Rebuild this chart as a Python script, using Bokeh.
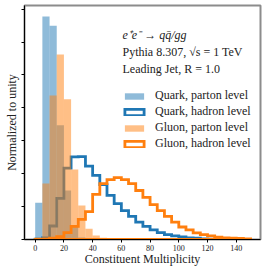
import numpy as np
from bokeh.plotting import figure
from bokeh.models import Range1d, FixedTicker, Label, Legend, LegendItem, ColumnDataSource
from bokeh.embed import file_html
from bokeh.resources import INLINE

# ---- data (density, bin width 5) ----
bin_width = 5
quark_parton = [0.0112, 0.0678, 0.0650, 0.0347, 0.0149, 0.0043, 0.0006, 0.0002]
gluon_parton = [0.0006, 0.0170, 0.0438, 0.0562, 0.0426, 0.0213, 0.0103, 0.0033, 0.0012, 0.0005, 0.0002]
quark_hadron = [0.0001, 0.0005, 0.0041, 0.0125, 0.0217, 0.0251, 0.0252, 0.0223, 0.0195, 0.0167,
                0.0134, 0.0109, 0.0088, 0.0070, 0.0053, 0.0040, 0.0029, 0.0021, 0.0015, 0.0011,
                0.0008, 0.0005, 0.0004, 0.0002, 0.0001]
gluon_hadron = [0.00003, 0.0001, 0.0004, 0.0009, 0.0021, 0.0040, 0.0061, 0.0085, 0.0137, 0.0170,
                0.0182, 0.0188, 0.0182, 0.0170, 0.0149, 0.0128, 0.0106, 0.0088, 0.0070, 0.0053,
                0.0038, 0.0029, 0.0020, 0.0015, 0.0011, 0.0007, 0.0005, 0.0004, 0.0003, 0.0002]
x_ticks = [0, 20, 40, 60, 80, 100, 120, 140]
y_ticks = [0.0, 0.01, 0.02, 0.03, 0.04, 0.05, 0.06, 0.07]
labels = ["Quark, parton level", "Quark, hadron level", "Gluon, parton level", "Gluon, hadron level"]
notes = ["e⁺e⁻ → qq̄/gg", "Pythia 8.307, √s = 1 TeV", "Leading Jet, R = 1.0"]

BLUE = "#1f77b4"
ORANGE = "#ff7f0e"
SERIF = "Liberation Serif"
TXT = "#222222"


def bars(vals):
    v = np.asarray(vals)
    left = np.arange(len(v)) * bin_width
    return ColumnDataSource(dict(left=left, right=left + bin_width, top=v, bottom=np.zeros_like(v)))


def steps(vals):
    v = np.asarray(vals)
    edges = np.arange(len(v) + 1) * bin_width
    xs = np.repeat(edges, 2)
    ys = np.concatenate([[0.0], np.repeat(v, 2), [0.0]])
    return ColumnDataSource(dict(x=xs, y=ys))


p = figure(width=266, height=271, output_backend="svg", toolbar_location=None,
           x_range=Range1d(-7.45, 156.9), y_range=Range1d(0, 0.07112),
           min_border_left=24, min_border_right=6, min_border_top=5, min_border_bottom=32)
p.grid.visible = False
p.outline_line_color = "#8c8c8c"
p.outline_line_width = 2

r_qp = p.quad(source=bars(quark_parton), left="left", right="right", top="top", bottom="bottom",
              fill_color=BLUE, fill_alpha=0.5, line_color=None)
r_qh = p.patch(source=steps(quark_hadron), x="x", y="y", fill_color=None, line_color=BLUE,
               line_width=2.8, line_join="miter")
r_gp = p.quad(source=bars(gluon_parton), left="left", right="right", top="top", bottom="bottom",
              fill_color=ORANGE, fill_alpha=0.5, line_color=None)
r_gh = p.patch(source=steps(gluon_hadron), x="x", y="y", fill_color=None, line_color=ORANGE,
               line_width=2.8, line_join="miter")

legend = Legend(items=[LegendItem(label=labels[0], renderers=[r_qp]),
                       LegendItem(label=labels[1], renderers=[r_qh]),
                       LegendItem(label=labels[2], renderers=[r_gp]),
                       LegendItem(label=labels[3], renderers=[r_gh])],
                location=(98, 88), padding=0, margin=0, spacing=1,
                glyph_width=24, glyph_height=8, label_height=14, label_standoff=9,
                label_text_font=SERIF, label_text_font_size="12px", label_text_color=TXT,
                border_line_alpha=0, background_fill_alpha=0)
p.add_layout(legend)

# axes
p.xaxis.ticker = FixedTicker(ticks=x_ticks)
p.xaxis.major_label_text_font = SERIF
p.xaxis.major_label_text_font_size = "8px"
p.xaxis.major_label_text_color = TXT
p.xaxis.major_label_standoff = 2
p.xaxis.major_tick_out = 3
p.xaxis.major_tick_in = 0
p.xaxis.minor_tick_out = 0
p.xaxis.minor_tick_in = 0
p.xaxis.axis_line_color = "black"
p.xaxis.axis_label = "Constituent Multiplicity"
p.xaxis.axis_label_text_font = SERIF
p.xaxis.axis_label_text_font_size = "12px"
p.xaxis.axis_label_text_font_style = "normal"
p.xaxis.axis_label_text_color = TXT
p.xaxis.axis_label_standoff = -2

p.yaxis.ticker = FixedTicker(ticks=y_ticks)
p.yaxis.major_label_overrides = {t: "" for t in y_ticks}
p.yaxis.major_label_standoff = 0
p.yaxis.major_tick_out = 3
p.yaxis.major_tick_in = 0
p.yaxis.minor_tick_out = 0
p.yaxis.minor_tick_in = 0
p.yaxis.axis_line_color = "black"
p.yaxis.axis_label = "Normalized to unity"
p.yaxis.axis_label_text_font = SERIF
p.yaxis.axis_label_text_font_size = "12px"
p.yaxis.axis_label_text_font_style = "normal"
p.yaxis.axis_label_text_color = TXT
p.yaxis.axis_label_standoff = 3

# annotation block, in screen units relative to the plot frame
txt = dict(x_units="screen", y_units="screen", text_font=SERIF, text_font_size="12px",
           text_color=TXT, text_baseline="middle")
p.add_layout(Label(x=98, y=205, text=notes[0], text_font_style="italic", **txt))
p.add_layout(Label(x=98, y=188, text=notes[1], **txt))
p.add_layout(Label(x=98, y=171, text=notes[2], **txt))

open("out.html", "w").write(file_html(p, INLINE))
